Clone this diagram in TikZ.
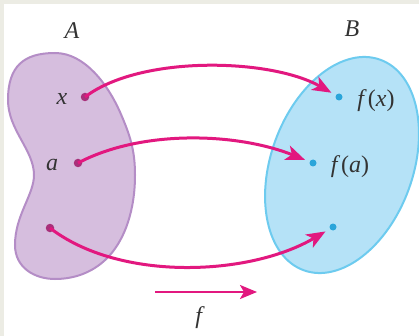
\documentclass[tikz,border=0pt]{standalone}
\usepackage{fontspec}
\setmainfont{Liberation Serif}
\usetikzlibrary{arrows.meta}
\definecolor{frame}{HTML}{ECECE4}
\definecolor{pfill}{HTML}{D6BEDE}
\definecolor{pline}{HTML}{B48DC6}
\definecolor{bfill}{HTML}{B5E2F7}
\definecolor{bline}{HTML}{6DCBEF}
\definecolor{mag}{HTML}{E2187F}
\definecolor{dota}{HTML}{A8307A}
\definecolor{dotb}{HTML}{2AA5DA}
\definecolor{txt}{HTML}{333333}
\tikzset{
  dotA/.style={circle,fill=dota,inner sep=0pt,minimum size=8.5pt},
  dotB/.style={circle,fill=dotb,inner sep=0pt,minimum size=7pt},
  lbl/.style={text=txt,font=\fontsize{24}{28}\selectfont,inner sep=0pt},
  maparrow/.style={draw=mag,line width=3pt,-{Stealth[length=19pt,width=15pt,inset=5pt]}},
}
\begin{document}
\begin{tikzpicture}[x=1pt,y=-1pt]
\useasboundingbox (0,0) rectangle (419,336);
\fill[frame] (0,0) rectangle (419,336);
\fill[white] (4,4) rectangle (425,342);
% set A
\draw[fill=pfill,draw=pline,line width=2pt]
 (55,53) .. controls (85,53) and (108,85) .. (120,112)
 .. controls (130,135) and (135,150) .. (135,175)
 .. controls (135,210) and (125,238) .. (110,255)
 .. controls (95,272) and (75,279) .. (55,279)
 .. controls (35,279) and (15,268) .. (15,245)
 .. controls (15,215) and (34,195) .. (34,175)
 .. controls (34,150) and (8,130) .. (8,100)
 .. controls (8,66) and (24,53) .. (55,53) -- cycle;
% set B
\draw[fill=bfill,draw=bline,line width=2pt,rotate around={-20:(342,165)}]
 (342,165) ellipse [x radius=71, y radius=112];
% labels
\node[lbl] (A) at (72,31) {\textit{A}};
\node[lbl] (B) at (352,29) {\textit{B}};
\node[lbl] (lx) at (62,99) {\textit{x}};
\node[lbl] (la) at (52,165) {\textit{a}};
\node[lbl] (lfx) at (376,101) {\textit{f}\kern1pt(\textit{x})};
\node[lbl] (lfa) at (350,167) {\textit{f}\kern1pt(\textit{a})};
% dots
\node[dotA] (x) at (85,97) {};
\node[dotA] (a) at (78,163) {};
\node[dotA] (u) at (50,228) {};
\node[dotB] (fx) at (339,97) {};
\node[dotB] (fa) at (313,163) {};
\node[dotB] (fu) at (333,227) {};
% arrows
\draw[maparrow,shorten >=5pt] (x.center) .. controls (140,55) and (270,58) .. (fx);
\draw[maparrow,shorten >=5pt] (a.center) .. controls (140,130) and (235,132) .. (fa);
\draw[maparrow,shorten >=5pt] (u.center) .. controls (120,282) and (250,276) .. (fu);
% f arrow
\coordinate (f0) at (155,292);
\coordinate (f1) at (257,292);
\draw[maparrow,line width=2.5pt,-{Stealth[length=17pt,width=14pt,inset=4pt]}] (f0) -- (f1);
\node[lbl] (f) at (200,318) {\textit{f}};
\end{tikzpicture}
\end{document}
